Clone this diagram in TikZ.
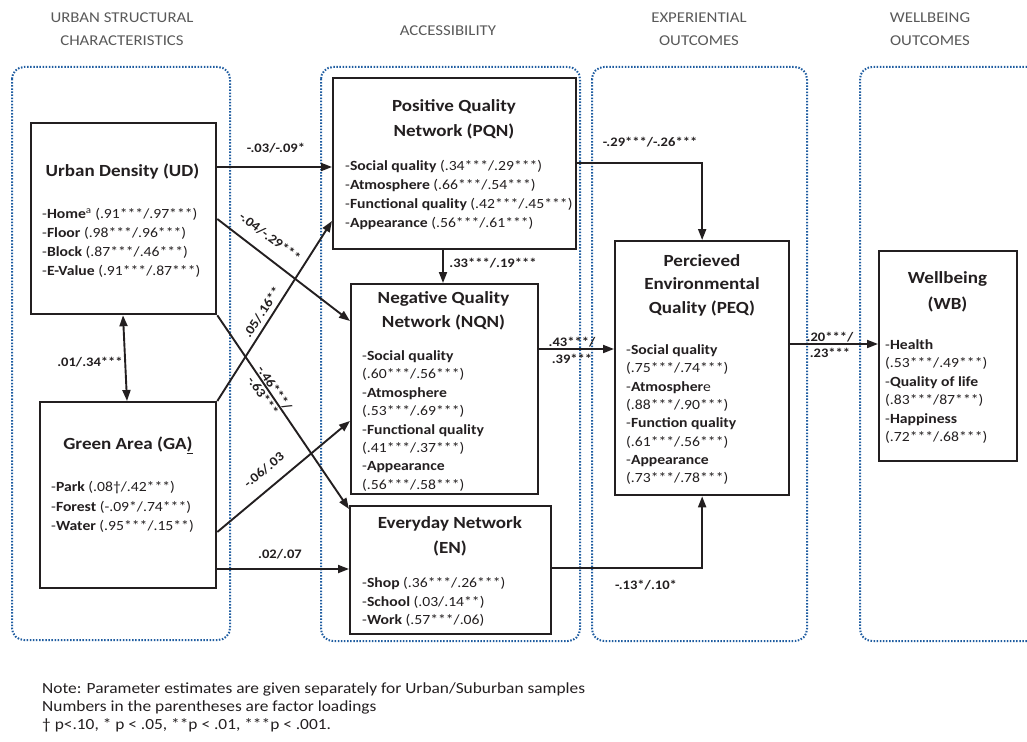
\documentclass[tikz,border=0pt]{standalone}
\usepackage{fontspec}
\setmainfont{Carlito}[FakeStretch=1.12]
\usetikzlibrary{arrows.meta,calc}
\definecolor{ink}{RGB}{35,31,32}
\definecolor{dotblue}{RGB}{30,92,160}
\definecolor{headgray}{RGB}{89,89,89}
\tikzset{
 box/.style={draw=ink, line width=2.3pt, anchor=north west, inner sep=0pt, fill=white},
 group/.style={draw=dotblue, line width=2pt, dash pattern=on 1.5pt off 1.6pt, rounded corners=12pt},
 arr/.style={draw=ink, line width=1.9pt, -{Triangle[length=11pt,width=8pt]}},
 darr/.style={draw=ink, line width=1.9pt, {Triangle[length=11pt,width=8pt]}-{Triangle[length=11pt,width=8pt]}},
 title/.style={font=\fontsize{17}{20}\selectfont\bfseries, text=ink, anchor=base, inner sep=0pt},
 item/.style={font=\fontsize{14}{16}\selectfont, text=ink, anchor=base west, inner sep=0pt},
 lab/.style={font=\fontsize{13}{15}\selectfont\bfseries, text=ink, inner sep=0pt},
 head/.style={font=\fontsize{15}{18}\selectfont, text=headgray, anchor=base, inner sep=0pt},
 notetxt/.style={font=\fontsize{15.5}{18}\selectfont, text=ink, anchor=base west, inner sep=0pt},
}
\begin{document}
\begin{tikzpicture}[x=1pt,y=-1pt]
\useasboundingbox (0,0) rectangle (1027,741);

% headers
\node[head] (h1a) at (122,22.5) {URBAN STRUCTURAL};
\node[head] (h1b) at (122,45.5) {CHARACTERISTICS};
\node[head] (h2) at (448,35.5) {ACCESSIBILITY};
\node[head] (h3a) at (699,22.5) {EXPERIENTIAL};
\node[head] (h3b) at (699,45.5) {OUTCOMES};
\node[head] (h4a) at (930,22.5) {WELLBEING};
\node[head] (h4b) at (930,45.5) {OUTCOMES};

% groups
\draw[group] (12,67) rectangle (230,640);
\draw[group] (321,67) rectangle (580,641);
\draw[group] (592,67) rectangle (807,641);
\draw[group] (1027,67) -- (860,67) -- (860,641) -- (1027,641);

% boxes
\node[box, minimum width=185pt, minimum height=191pt] (ud) at (30,122) {};
\node[box, minimum width=176pt, minimum height=186pt] (ga) at (39,401) {};
\node[box, minimum width=243pt, minimum height=171pt] (pqn) at (332,77) {};
\node[box, minimum width=187pt, minimum height=210pt] (nqn) at (350,283) {};
\node[box, minimum width=201pt, minimum height=128pt] (en) at (349,505) {};
\node[box, minimum width=174pt, minimum height=254pt] (peq) at (614,240) {};
\node[box, minimum width=138pt, minimum height=210pt] (wb) at (878,250) {};

% titles
\node[title] (udt) at (122.5,176) {Urban Density (UD)};
\node[title] (gat) at (128,449) {Green Area (GA\underline{)}};
\node[title] (pqnt1) at (454,111) {Positive Quality};
\node[title] (pqnt2) at (454,136) {Network (PQN)};
\node[title] (nqnt1) at (443.5,303) {Negative Quality};
\node[title] (nqnt2) at (443.5,327) {Network (NQN)};
\node[title] (ent1) at (450,528) {Everyday Network};
\node[title] (ent2) at (450,553) {(EN)};
\node[title] (peqt1) at (702,266) {Percieved};
\node[title] (peqt2) at (702,289) {Environmental};
\node[title] (peqt3) at (702,313) {Quality (PEQ)};
\node[title] (wbt1) at (947.5,283) {Wellbeing};
\node[title] (wbt2) at (947.5,309) {(WB)};

% items
\foreach \t [count=\i from 0] in {
 {-\textbf{Home}\textsuperscript{a} (.91***/.97***)},
 {-\textbf{Floor} (.98***/.96***)},
 {-\textbf{Block} (.87***/.46***)},
 {-\textbf{E-Value} (.91***/.87***)}}
 \node[item] (udi\i) at (42,218.5+19*\i) {\t};
\foreach \t [count=\i from 0] in {
 {-\textbf{Park} (.08†/.42***)},
 {-\textbf{Forest} (-.09*/.74***)},
 {-\textbf{Water} (.95***/.15**)}}
 \node[item] (gai\i) at (51,491.5+19.5*\i) {\t};
\foreach \t [count=\i from 0] in {
 {-\textbf{Social quality} (.34***/.29***)},
 {-\textbf{Atmosphere} (.66***/.54***)},
 {-\textbf{Functional quality} (.42***/.45***)},
 {-\textbf{Appearance} (.56***/.61***)}}
 \node[item] (pqni\i) at (345,170.5+19*\i) {\t};
\foreach \t [count=\i from 0] in {
 {-\textbf{Social quality}}, {(.60***/.56***)},
 {-\textbf{Atmosphere}}, {(.53***/.69***)},
 {-\textbf{Functional quality}}, {(.41***/.37***)},
 {-\textbf{Appearance}}, {(.56***/.58***)}}
 \node[item] (nqni\i) at (362,360.5+18.4*\i) {\t};
\foreach \t [count=\i from 0] in {
 {-\textbf{Shop} (.36***/.26***)},
 {-\textbf{School} (.03/.14**)},
 {-\textbf{Work} (.57***/.06)}}
 \node[item] (eni\i) at (362,587.5+18.5*\i) {\t};
\foreach \t [count=\i from 0] in {
 {-\textbf{Social quality}}, {(.75***/.74***)},
 {-\textbf{Atmospher}e}, {(.88***/.90***)},
 {-\textbf{Function quality}}, {(.61***/.56***)},
 {-\textbf{Appearance}}, {(.73***/.78***)}}
 \node[item] (peqi\i) at (626,354.5+18.3*\i) {\t};
\foreach \t [count=\i from 0] in {
 {-\textbf{Health}}, {(.53***/.49***)},
 {-\textbf{Quality of life}}, {(.83***/87***)},
 {-\textbf{Happiness}}, {(.72***/.68***)}}
 \node[item] (wbi\i) at (885,349.5+18.4*\i) {\t};

% connectors
\draw[darr] (ud.south -| 123,0) -- (ga.north -| 127,0);
\draw[arr] (ud.east |- 0,167) -- (pqn.west |- 0,167);
\draw[arr] (ud.east |- 0,219) -- (nqn.west |- 0,321);
\draw[arr] (ud.south east) -- (en.west |- 0,509);
\draw[arr] (ga.north east) -- (pqn.west |- 0,221);
\draw[arr] (ga.east |- 0,532) -- (nqn.west |- 0,421);
\draw[arr] (ga.east |- 0,569) -- (en.west |- 0,569);
\draw[arr] (pqn.south -| 443,0) -- (nqn.north -| 443,0);
\draw[arr] (pqn.east |- 0,163) -| (peq.north);
\draw[arr] (nqn.east |- 0,349) -- (peq.west |- 0,349);
\draw[arr] (en.east |- 0,568) -| (peq.south);
\draw[arr] (peq.east |- 0,344) -- (wb.west |- 0,344);

% connector labels
\node[lab] (l1) at (90,362) {.01/.34***};
\node[lab] (l2) at (276,148) {-.03/-.09*};
\node[lab, rotate=-37] (l3) at (270,237) {-.04/-.29***};
\node[lab, rotate=-55.6, align=center] (l4) at (269,392) {-.46***/\\[-1pt]-.63***};
\node[lab, rotate=57] (l5) at (262,312) {.05/.16**};
\node[lab, rotate=39.4] (l6) at (264,470) {-.06/.03};
\node[lab] (l7) at (280,554) {.02/.07};
\node[lab] (l8) at (493,263) {.33***/.19***};
\node[lab] (l9) at (650,142) {-.29***/-.26***};
\node[lab] (l10a) at (572,342) {.43***/};
\node[lab] (l10b) at (572,359) {.39***};
\node[lab] (l11) at (646,585) {-.13*/.10*};
\node[lab] (l12a) at (830,337) {.20***/};
\node[lab] (l12b) at (830,353) {.23***};

% note
\node[notetxt] (n1) at (42,693) {Note: Parameter estimates are given separately for Urban/Suburban samples};
\node[notetxt] (n2) at (42,711) {Numbers in the parentheses are factor loadings};
\node[notetxt] (n3) at (42,729) {† p<.10, * p < .05, **p < .01, ***p < .001.};
\end{tikzpicture}
\end{document}
